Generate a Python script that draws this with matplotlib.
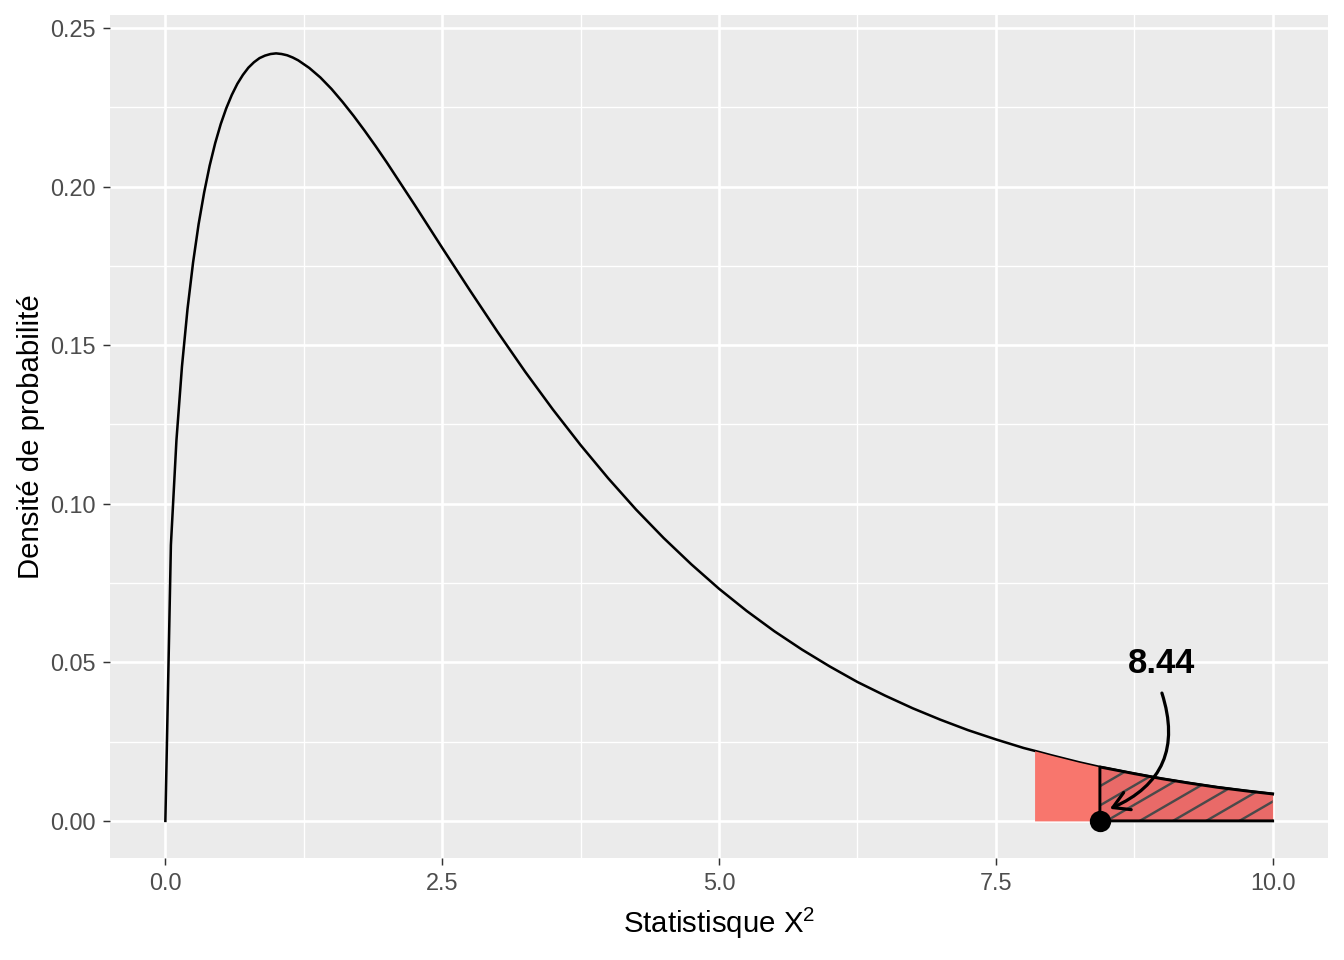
import numpy as np
import matplotlib.pyplot as plt
from matplotlib.patches import Polygon, FancyArrowPatch

# densité (courbe du X2)
x_vals = [0.0, 0.05, 0.1, 0.15, 0.2, 0.25, 0.3, 0.35, 0.4, 0.45, 0.5, 0.55, 0.6, 0.65,
          0.7, 0.75, 0.8, 0.85, 0.9, 0.95, 1.0, 1.05, 1.1, 1.15, 1.2, 1.3, 1.4, 1.5,
          1.6, 1.7, 1.8, 1.9, 2.0, 2.25, 2.5, 2.75, 3.0, 3.25, 3.5, 3.75, 4.0, 4.25,
          4.5, 4.75, 5.0, 5.25, 5.5, 5.75, 6.0, 6.25, 6.5, 6.75, 7.0, 7.25, 7.5,
          7.75, 7.85, 8.0, 8.25, 8.44, 8.5, 8.75, 9.0, 9.25, 9.5, 9.75, 10.0]
dens = [0.0, 0.0870, 0.1200, 0.1433, 0.1614, 0.1760, 0.1881, 0.1981, 0.2066, 0.2137,
        0.2197, 0.2247, 0.2289, 0.2324, 0.2352, 0.2375, 0.2392, 0.2405, 0.2413,
        0.2418, 0.2420, 0.2418, 0.2414, 0.2407, 0.2398, 0.2374, 0.2344, 0.2308,
        0.2267, 0.2223, 0.2176, 0.2127, 0.2076, 0.1943, 0.1807, 0.1673, 0.1542,
        0.1416, 0.1297, 0.1185, 0.1080, 0.0982, 0.0892, 0.0809, 0.0732, 0.0662,
        0.0598, 0.0540, 0.0487, 0.0438, 0.0395, 0.0355, 0.0319, 0.0286, 0.0257,
        0.0230, 0.0221, 0.0207, 0.0185, 0.0170, 0.0166, 0.0149, 0.0133, 0.0119,
        0.0106, 0.0095, 0.0085]
crit = 7.85
obs = 8.44
label = "8.44"

x = np.array(x_vals)
y = np.array(dens)

plt.rcParams["font.family"] = ["Liberation Sans", "DejaVu Sans"]
plt.rcParams["mathtext.default"] = "regular"

fig = plt.figure(figsize=(7, 5), dpi=192)
ax = fig.add_axes([110 / 1344, 1 - 858 / 960, 1218 / 1344, 843 / 960])
ax.set_facecolor("#EBEBEB")
for s in ax.spines.values():
    s.set_visible(False)

ax.set_xlim(-0.5, 10.5)
ax.set_ylim(-0.0117, 0.2541)
ax.set_xticks([0, 2.5, 5, 7.5, 10])
ax.set_xticklabels(["0.0", "2.5", "5.0", "7.5", "10.0"])
ax.set_xticks([1.25, 3.75, 6.25, 8.75], minor=True)
ax.set_yticks([0, 0.05, 0.10, 0.15, 0.20, 0.25])
ax.set_yticklabels(["0.00", "0.05", "0.10", "0.15", "0.20", "0.25"])
ax.set_yticks([0.025, 0.075, 0.125, 0.175, 0.225], minor=True)
ax.grid(which="major", color="white", lw=1.0)
ax.grid(which="minor", color="white", lw=0.5)
ax.set_axisbelow(True)
ax.tick_params(which="major", length=2.75, width=0.55, color="#333333",
               labelsize=8.8, labelcolor="#4D4D4D", pad=2.5)
ax.tick_params(which="minor", length=0)

ax.plot(x, y, color="black", lw=0.95, zorder=2)

# zone de rejet
m = x >= crit
ax.fill_between(x[m], 0, y[m], color="#F8766D", lw=0, zorder=3)

# zone au-delà de la valeur observée, hachurée
h = x >= obs
poly_xy = np.vstack([np.column_stack([x[h], y[h]]), [[10.0, 0.0], [obs, 0.0]]])
poly = Polygon(poly_xy, closed=True, facecolor="#E96A68", edgecolor="none", zorder=4)
ax.add_patch(poly)
slope = 0.58 * 110.8 / 3172
for x0 in np.arange(7.0, 10.5, 0.3):
    ln, = ax.plot([x0, x0 + 2], [0, 2 * slope], color="#4A4A4A", lw=0.9, zorder=5)
    ln.set_clip_path(poly)
ax.plot(np.concatenate([x[h][::-1], [obs, 10.0]]),
        np.concatenate([y[h][::-1], [0.0, 0.0]]),
        color="black", lw=1.1, zorder=6)

ax.plot([obs], [0], "o", color="black", ms=7, zorder=7)
ax.text(9.0, 0.0495, label, fontsize=13, fontweight="bold", ha="center", va="center")
arr = FancyArrowPatch((9.0, 0.0403), (8.53, 0.0038), connectionstyle="arc3,rad=-0.45",
                      arrowstyle="->,head_length=6,head_width=3.5", color="black",
                      lw=1.2, zorder=8, shrinkA=0, shrinkB=0)
ax.add_patch(arr)

ax.set_xlabel("Statistisque X$^{2}$", fontsize=11, labelpad=4)
ax.set_ylabel("Densité de probabilité", fontsize=11, labelpad=2)

fig.savefig("out.png", dpi=192)
